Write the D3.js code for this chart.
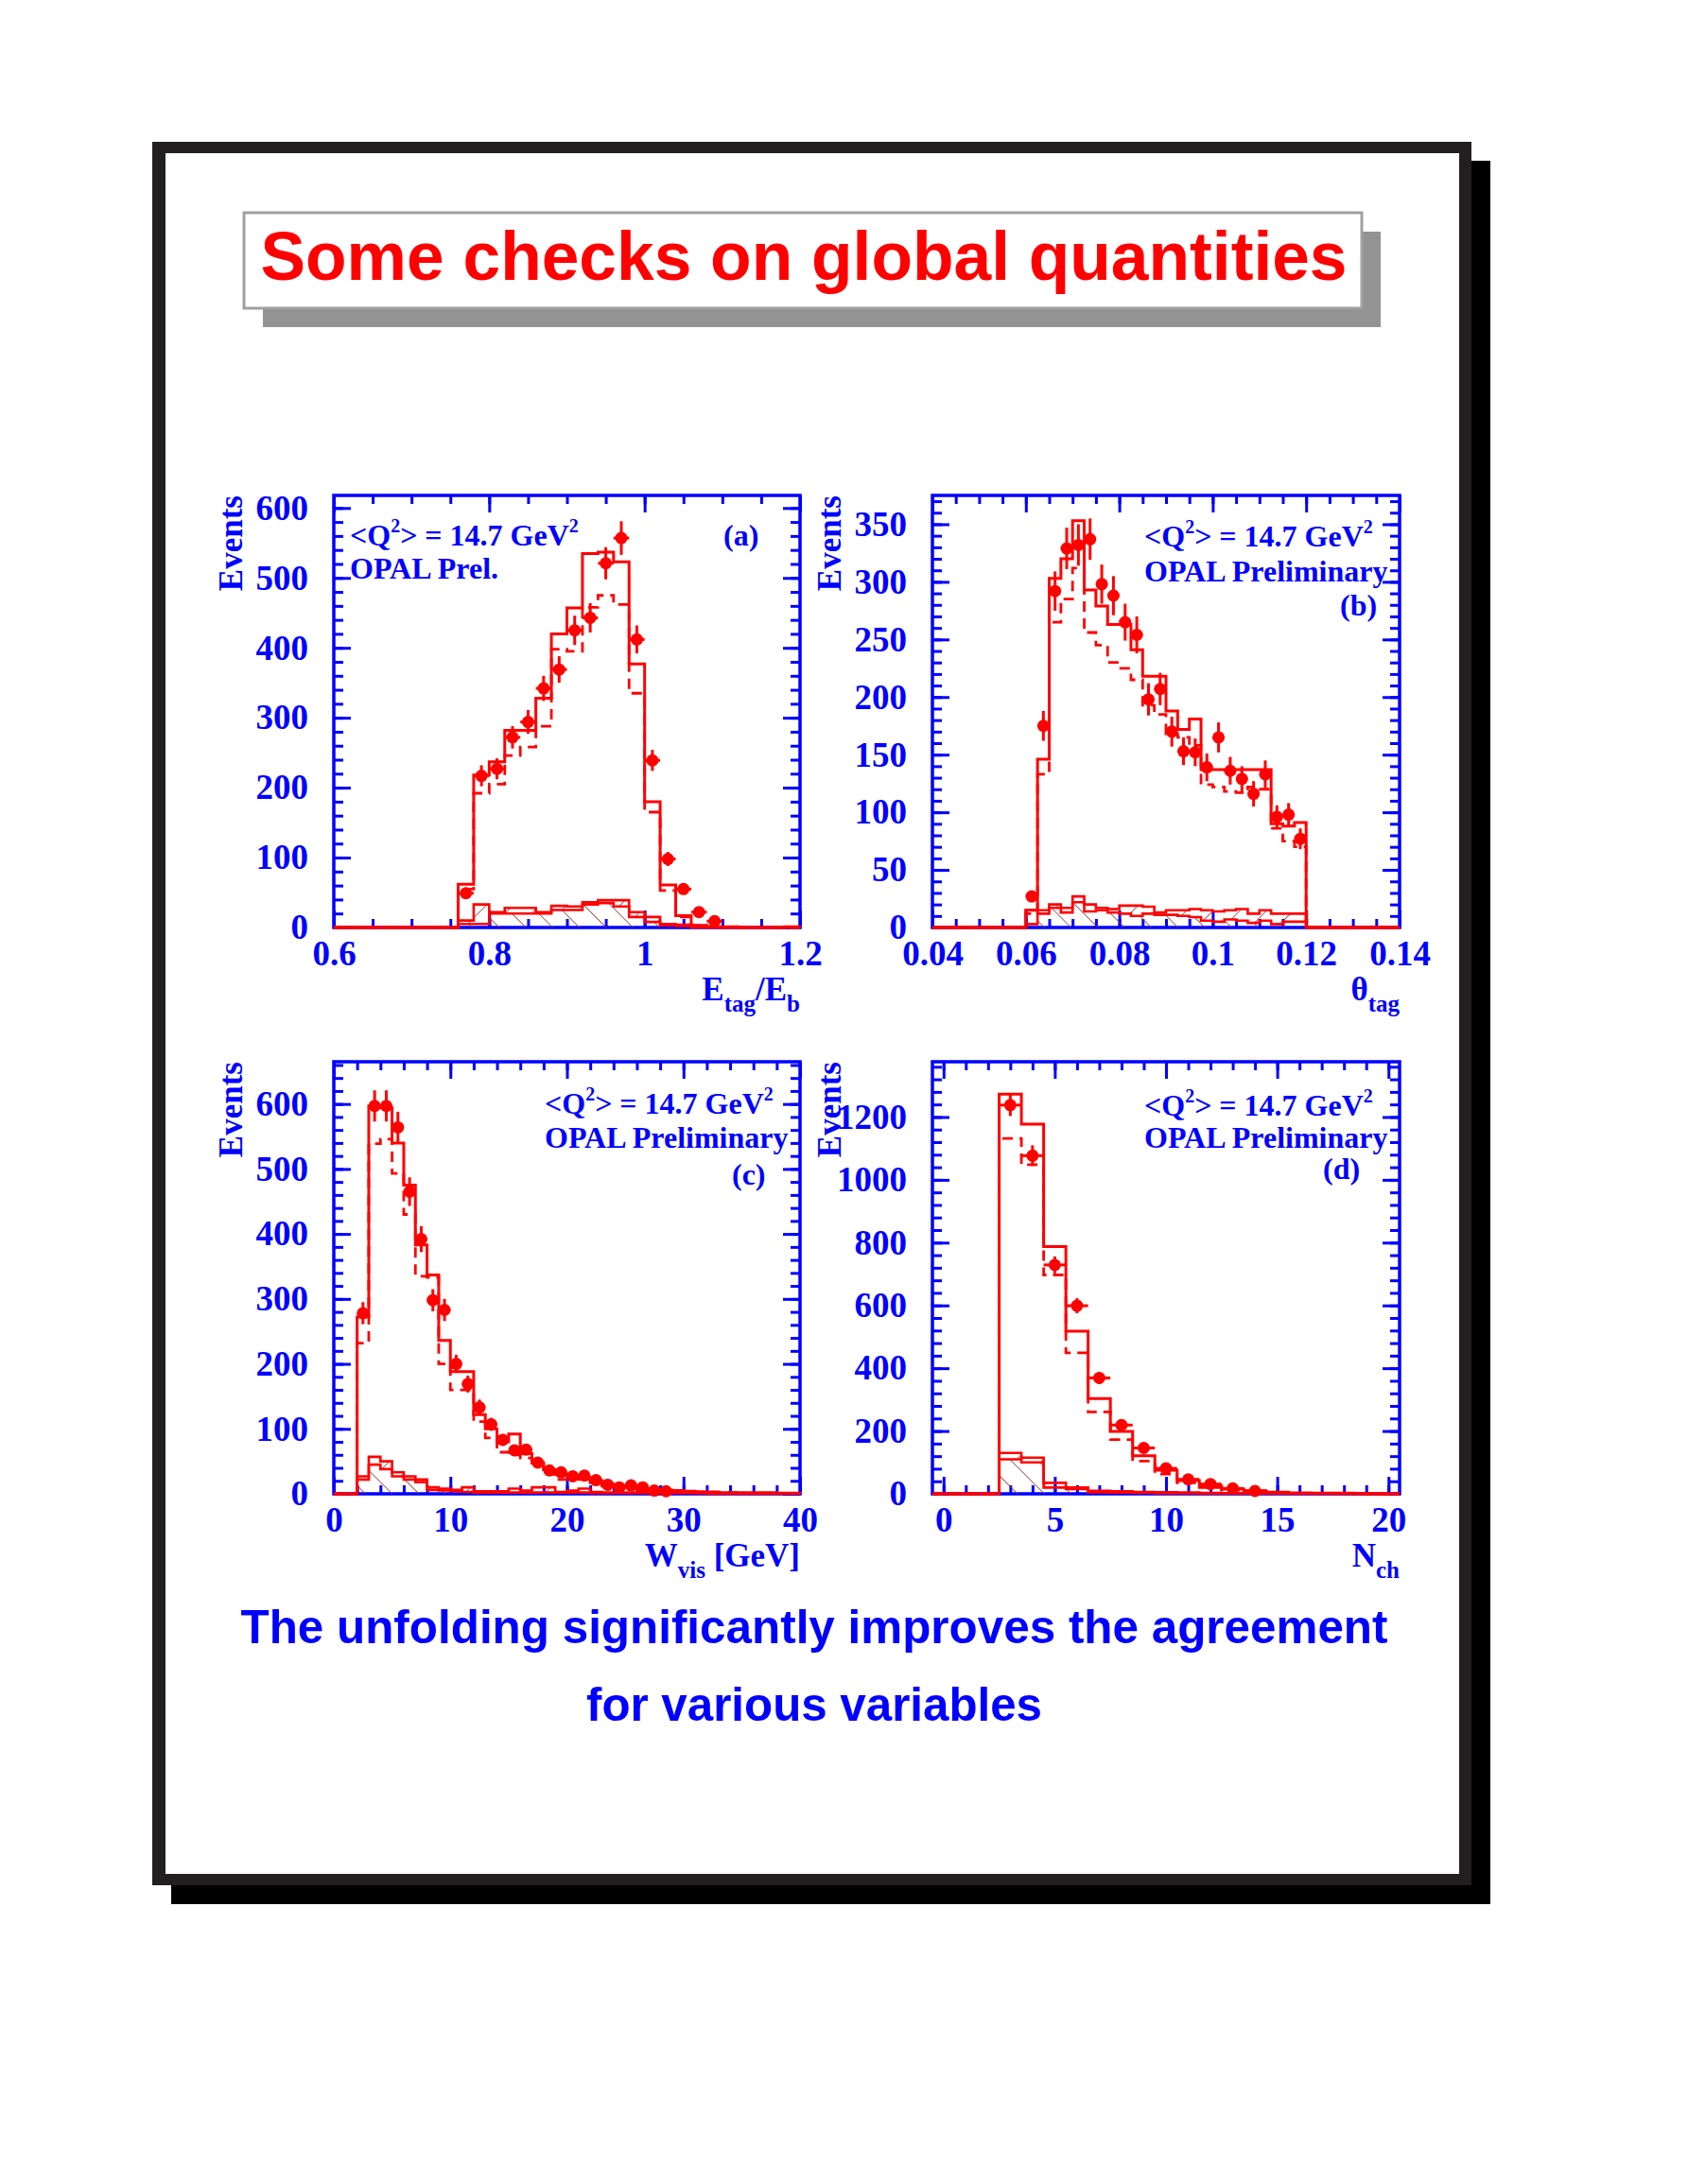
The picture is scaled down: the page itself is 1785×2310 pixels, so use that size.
<!DOCTYPE html>
<html>
<head>
<meta charset="utf-8">
<script src="https://cdn.jsdelivr.net/npm/d3@7"></script>
<style>
  body { margin: 0; background: #fff; }
  svg { display: block; }
</style>
</head>
<body>
<svg id="page" width="1785" height="2310"></svg>
<script>
// ---- data ----
// (a) E_tag / E_b, bins of 0.02
const etagBins = [0.76,0.78,0.80,0.82,0.84,0.86,0.88,0.90,0.92,0.94,0.96,0.98,1.00,1.02,1.04,1.06,1.08,1.10,1.12,1.14,1.16,1.18];
const etagSolid = [62,218,237,282,282,328,420,457,535,537,523,377,180,61,17,3,1,1,0,0,0,1];
const etagDashed = [55,192,205,246,258,288,398,395,458,475,462,335,165,53,15,3,1,0,0,0,0,0];
const etagBgUp = [10,33,22,28,28,22,31,30,36,39,39,22,15,5,4,1,0,0,0,0,0,0];
const etagBgLow = [5,5,20,20,20,20,25,25,33,35,30,15,8,3,2,0,0,0,0,0,0,0];
const etagData = [49,217,227,272,294,342,369,425,443,521,557,412,239,98,55,22,9];
const etagErr = [7,15,15,16,17,18,19,21,21,23,24,20,15,10,7,5,3];

// (b) theta_tag, bins of 0.0025
const thetaBins = [0.06,0.0625,0.065,0.0675,0.07,0.0725,0.075,0.0775,0.08,0.0825,0.085,0.0875,0.09,0.0925,0.095,0.0975,0.1,0.1025,0.105,0.1075,0.11,0.1125,0.115,0.1175];
const thetaSolid = [15,146,303,320,353,293,279,263,263,241,218,218,188,172,181,137,137,137,137,137,137,90,88,91];
const thetaDashed = [12,133,265,285,312,256,245,230,225,215,193,185,168,165,158,124,122,118,117,122,120,86,75,70];
const thetaBgUp = [15,15,20,13,27,20,17,16,19,19,18,13,15,15,16,15,14,15,16,12,15,12,12,12];
const thetaBgLow = [3,12,17,17,22,14,15,13,12,10,12,11,11,10,9,6,5,7,6,4,6,3,5,5];
const thetaData = [27,175,292,329,332,337,298,288,265,254,198,207,170,153,152,139,165,136,129,116,133,96,98,77];
const thetaErr = [5,13,17,18,18,18,17,17,16,16,14,14,13,12,12,12,13,12,11,11,12,10,10,9];

// (c) W_vis [GeV], bins of 1 GeV
const wvisBins = [2,3,4,5,6,7,8,9,10,11,12,13,14,15,16,17,18,19,20,21,22,23,24,25,26,27,28,29,30,31,32,33,34,35,36,37,38,39];
const wvisSolid = [272,597,594,540,475,383,337,236,188,188,122,100,80,92,62,48,37,30,28,25,20,15,12,10,8,6,6,5,4,3,3,2,2,2,2,2,1,1];
const wvisDashed = [232,539,546,493,430,335,333,200,160,160,111,86,64,60,55,45,30,22,25,22,17,12,10,8,6,5,4,4,3,3,2,2,2,1,1,1,1,1];
const wvisBgUp = [27,57,50,33,27,22,10,8,6,10,4,4,4,8,5,10,10,3,5,8,3,2,2,2,2,2,2,2,2,1,1,1,1,1,1,1,1,1];
const wvisBgLow = [22,45,38,27,22,18,6,5,4,3,2,2,2,2,2,2,2,2,2,2,1,1,1,1,1,1,1,1,1,1,0,0,0,0,0,0,0,0];
const wvisData = [278,597,597,564,465,392,298,283,200,169,133,107,83,67,68,48,36,33,27,28,21,14,10,13,10,5,4];
const wvisErr = [17,24,24,24,22,20,17,17,14,13,12,10,9,8,8,7,6,6,5,5,5,4,3,4,3,2,2];

// (d) N_ch, integer bins (lower edges)
const nchBins = [2.5,3.5,4.5,5.5,6.5,7.5,8.5,9.5,10.5,11.5,12.5,13.5,14.5,15.5,16.5,17.5,18.5,19.5];
const nchSolid = [1273,1177,787,518,303,199,121,75,42,25,15,10,5,3,2,2,1,0];
const nchDashed = [1132,1048,697,449,261,173,104,63,35,20,12,7,4,2,1,1,0,0];
const nchBgUp = [130,115,35,20,10,8,6,5,4,3,2,2,1,1,1,0,0,0];
const nchBgLow = [110,100,20,15,5,4,3,2,2,1,1,1,1,0,0,0,0,0];
const nchData = [1238,1077,729,599,369,219,146,81,46,31,17,9];
const nchErr = [35,33,27,24,19,15,12,9,7,6,4,3];

// tick labels
const etagTicks = [0.6, 0.8, 1, 1.2];
const thetaTicks = [0.04, 0.06, 0.08, 0.1, 0.12, 0.14];
const wvisTicks = [0, 10, 20, 30, 40];
const nchTicks = [0, 5, 10, 15, 20];
const etagEventTicks = [0, 100, 200, 300, 400, 500, 600];
const thetaEventTicks = [0, 50, 100, 150, 200, 250, 300, 350];
const wvisEventTicks = [0, 100, 200, 300, 400, 500, 600];
const nchEventTicks = [0, 200, 400, 600, 800, 1000, 1200];

const RED = "#ff0000";
const BLUE = "#0000ff";
const SERIF = "'Liberation Serif', 'Times New Roman', serif";
const SANS = "'Liberation Sans', Arial, Helvetica, sans-serif";

const page = d3.select("#page");

// hatch patterns for the background histograms
const defs = page.append("defs");
function addHatch(id, angle) {
  defs.append("pattern")
    .attr("id", id)
    .attr("patternUnits", "userSpaceOnUse")
    .attr("width", 20).attr("height", 20)
    .attr("patternTransform", `rotate(${angle})`)
    .append("line")
    .attr("x1", 0).attr("y1", 0).attr("x2", 0).attr("y2", 20)
    .attr("stroke", "#8c3c3c").attr("stroke-width", 1.6);
}
addHatch("hatchBack", -45);
addHatch("hatchFwd", 45);

// ---- slide frame ----
page.append("rect").attr("x", 181).attr("y", 170).attr("width", 1395).attr("height", 1844).attr("fill", "#000");
page.append("rect").attr("x", 161).attr("y", 150).attr("width", 1395).attr("height", 1844).attr("fill", "#231f20");
page.append("rect").attr("x", 175).attr("y", 162).attr("width", 1368).attr("height", 1820).attr("fill", "#fff");

// title box
page.append("rect").attr("x", 278).attr("y", 245).attr("width", 1182).attr("height", 101).attr("fill", "#939393");
page.append("rect").attr("x", 258).attr("y", 225).attr("width", 1182).attr("height", 101)
  .attr("fill", "#fff").attr("stroke", "#a0a0a0").attr("stroke-width", 3);
page.append("text")
  .attr("x", 850).attr("y", 296)
  .attr("text-anchor", "middle")
  .attr("font-family", SANS).attr("font-weight", "bold").attr("font-size", 72)
  .attr("textLength", 1149).attr("lengthAdjust", "spacingAndGlyphs")
  .attr("fill", RED)
  .text("Some checks on global quantities");

// bottom message
page.append("text")
  .attr("x", 861).attr("y", 1738).attr("text-anchor", "middle")
  .attr("font-family", SANS).attr("font-weight", "bold").attr("font-size", 50)
  .attr("textLength", 1213).attr("lengthAdjust", "spacingAndGlyphs")
  .attr("fill", BLUE)
  .text("The unfolding significantly improves the agreement");
page.append("text")
  .attr("x", 861).attr("y", 1820).attr("text-anchor", "middle")
  .attr("font-family", SANS).attr("font-weight", "bold").attr("font-size", 50)
  .attr("textLength", 482).attr("lengthAdjust", "spacingAndGlyphs")
  .attr("fill", BLUE)
  .text("for various variables");

// ---- panels ----
const panels = [
  {
    left: 353, top: 524, w: 493, h: 457,
    xDomain: [0.6, 1.2], yMax: 618, xStep: 0.05, yStep: 20,
    xTicks: etagTicks, yTicks: etagEventTicks,
    bins: etagBins, binW: 0.02,
    solid: etagSolid, dashed: etagDashed, bgUp: etagBgUp, bgLow: etagBgLow,
    data: etagData, err: etagErr,
    xTitle: [["E", 0], ["tag", 1], ["/E", 0], ["b", 1]],
    lines: [
      { x: 17, y: 53, q: true },
      { x: 17, y: 88, t: "OPAL Prel." },
      { x: 412, y: 53, t: "(a)" }
    ]
  },
  {
    left: 986, top: 524, w: 494, h: 457,
    xDomain: [0.04, 0.14], yMax: 375, xStep: 0.005, yStep: 10,
    xTicks: thetaTicks, yTicks: thetaEventTicks,
    bins: thetaBins, binW: 0.0025,
    solid: thetaSolid, dashed: thetaDashed, bgUp: thetaBgUp, bgLow: thetaBgLow,
    data: thetaData, err: thetaErr,
    xTitle: [["\u03b8", 0], ["tag", 1]],
    lines: [
      { x: 224, y: 54, q: true },
      { x: 224, y: 91, t: "OPAL Preliminary" },
      { x: 431, y: 127, t: "(b)" }
    ]
  },
  {
    left: 353, top: 1123, w: 493, h: 457,
    xDomain: [0, 40], yMax: 665, xStep: 2, yStep: 20,
    xTicks: wvisTicks, yTicks: wvisEventTicks,
    bins: wvisBins, binW: 1,
    solid: wvisSolid, dashed: wvisDashed, bgUp: wvisBgUp, bgLow: wvisBgLow,
    data: wvisData, err: wvisErr,
    xTitle: [["W", 0], ["vis", 1], [" [GeV]", 0]],
    lines: [
      { x: 223, y: 55, q: true },
      { x: 223, y: 91, t: "OPAL Preliminary" },
      { x: 421, y: 130, t: "(c)" }
    ]
  },
  {
    left: 986, top: 1123, w: 494, h: 457,
    xDomain: [-0.5, 20.5], yMax: 1376, xStep: 1, yStep: 40,
    xTicks: nchTicks, yTicks: nchEventTicks,
    bins: nchBins, binW: 1,
    solid: nchSolid, dashed: nchDashed, bgUp: nchBgUp, bgLow: nchBgLow,
    data: nchData, err: nchErr,
    xTitle: [["N", 0], ["ch", 1]],
    lines: [
      { x: 224, y: 57, q: true },
      { x: 224, y: 91, t: "OPAL Preliminary" },
      { x: 413, y: 124, t: "(d)" }
    ]
  }
];

function minorTicks(lo, hi, step) {
  const first = Math.ceil(lo / step - 1e-9);
  const last = Math.floor(hi / step + 1e-9);
  return d3.range(first, last + 1).map(i => +(i * step).toFixed(6));
}

function stepPoints(bins, w, vals, dom) {
  const pts = [[dom[0], 0], [bins[0], 0]];
  vals.forEach((v, i) => {
    pts.push([bins[i], v], [bins[i] + w, v]);
  });
  pts.push([bins[bins.length - 1] + w, 0], [dom[1], 0]);
  return pts;
}

function styleAxis(sel) {
  sel.select(".domain").remove();
  sel.selectAll(".tick line").attr("stroke", BLUE).attr("stroke-width", 3);
  sel.selectAll(".tick text")
    .attr("fill", BLUE)
    .attr("font-family", SERIF)
    .attr("font-weight", "bold")
    .attr("font-size", 37);
}

function drawPanel(p) {
  const g = page.append("g").attr("transform", `translate(${p.left},${p.top})`);
  const x = d3.scaleLinear().domain(p.xDomain).range([0, p.w]);
  const y = d3.scaleLinear().domain([0, p.yMax]).range([p.h, 0]);

  // frame
  g.append("rect")
    .attr("width", p.w).attr("height", p.h)
    .attr("fill", "none").attr("stroke", BLUE).attr("stroke-width", 3.5);

  const xMinor = minorTicks(p.xDomain[0], p.xDomain[1], p.xStep);
  const yMinor = minorTicks(0, p.yMax, p.yStep);
  const fmt = d => String(d);

  // x axes
  g.append("g").attr("transform", `translate(0,${p.h})`)
    .call(d3.axisBottom(x).tickValues(xMinor).tickSize(-9).tickFormat(""))
    .call(styleAxis);
  g.append("g").attr("transform", `translate(0,${p.h})`)
    .call(d3.axisBottom(x).tickValues(p.xTicks).tickSize(-18).tickPadding(14).tickFormat(fmt))
    .call(styleAxis);
  g.append("g")
    .call(d3.axisTop(x).tickValues(xMinor).tickSize(-9).tickFormat(""))
    .call(styleAxis);
  g.append("g")
    .call(d3.axisTop(x).tickValues(p.xTicks).tickSize(-18).tickFormat(""))
    .call(styleAxis);

  // y axes
  g.append("g")
    .call(d3.axisLeft(y).tickValues(yMinor).tickSize(-10).tickFormat(""))
    .call(styleAxis);
  g.append("g")
    .call(d3.axisLeft(y).tickValues(p.yTicks).tickSize(-18).tickPadding(27).tickFormat(fmt))
    .call(styleAxis);
  g.append("g").attr("transform", `translate(${p.w},0)`)
    .call(d3.axisRight(y).tickValues(yMinor).tickSize(-10).tickFormat(""))
    .call(styleAxis);
  g.append("g").attr("transform", `translate(${p.w},0)`)
    .call(d3.axisRight(y).tickValues(p.yTicks).tickSize(-18).tickFormat(""))
    .call(styleAxis);

  // background: hatched areas
  const bgPts = [];
  p.bins.forEach((lo, i) => {
    bgPts.push([lo, p.bgLow[i], p.bgUp[i]], [lo + p.binW, p.bgLow[i], p.bgUp[i]]);
  });
  g.append("path").datum(bgPts)
    .attr("d", d3.area().x(d => x(d[0])).y0(y(0)).y1(d => y(d[1])))
    .attr("fill", "url(#hatchBack)");
  g.append("path").datum(bgPts)
    .attr("d", d3.area().x(d => x(d[0])).y0(d => y(d[1])).y1(d => y(d[2])))
    .attr("fill", "url(#hatchFwd)");

  const line = d3.line().x(d => x(d[0])).y(d => y(d[1]));
  const hist = (vals, dash, width) => g.append("path")
    .datum(stepPoints(p.bins, p.binW, vals, p.xDomain))
    .attr("d", line)
    .attr("fill", "none")
    .attr("stroke", RED)
    .attr("stroke-width", width)
    .attr("stroke-dasharray", dash);

  hist(p.bgLow, null, 2.6);
  hist(p.bgUp, null, 2.6);
  hist(p.dashed, "11,7", 2.8);
  hist(p.solid, null, 3);

  // data points
  const pts = g.append("g").attr("stroke", RED).attr("stroke-width", 3);
  p.data.forEach((v, i) => {
    const lo = p.bins[i], hi = p.bins[i] + p.binW;
    const cx = x((lo + hi) / 2);
    pts.append("line").attr("x1", cx).attr("x2", cx)
      .attr("y1", y(Math.max(0, v - p.err[i]))).attr("y2", y(v + p.err[i]));
    pts.append("line").attr("x1", x(lo)).attr("x2", x(hi))
      .attr("y1", y(v)).attr("y2", y(v));
    pts.append("circle").attr("cx", cx).attr("cy", y(v)).attr("r", 6.5)
      .attr("fill", RED).attr("stroke", "none");
  });

  // axis titles
  g.append("text")
    .attr("transform", `translate(-97,0) rotate(-90)`)
    .attr("text-anchor", "end")
    .attr("font-family", SERIF).attr("font-weight", "bold").attr("font-size", 35)
    .attr("fill", BLUE)
    .text("Events");

  const xt = g.append("text")
    .attr("x", p.w).attr("y", p.h + 77)
    .attr("text-anchor", "end")
    .attr("font-family", SERIF).attr("font-weight", "bold").attr("font-size", 35)
    .attr("fill", BLUE);
  let shifted = 0;
  p.xTitle.forEach(([s, sub]) => {
    const dy = sub ? 12 - shifted : -shifted;
    shifted = sub ? 12 : 0;
    xt.append("tspan").attr("dy", dy).attr("font-size", sub ? 25 : 35).text(s);
  });

  // panel annotations
  p.lines.forEach(l => {
    const t = g.append("text")
      .attr("x", l.x).attr("y", l.y)
      .attr("font-family", SERIF).attr("font-weight", "bold").attr("font-size", 32)
      .attr("fill", BLUE)
      .style("white-space", "pre");
    if (l.q) {
      t.append("tspan").text("<Q");
      t.append("tspan").attr("dy", -14).attr("font-size", 20).text("2");
      t.append("tspan").attr("dy", 14).text("> = 14.7 GeV");
      t.append("tspan").attr("dy", -14).attr("font-size", 20).text("2");
    } else {
      t.text(l.t);
    }
  });
}

panels.forEach(drawPanel);
</script>
</body>
</html>
